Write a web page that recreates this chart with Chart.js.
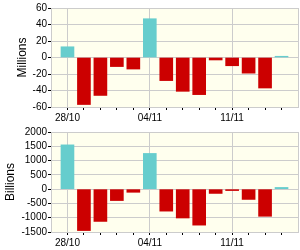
<!DOCTYPE html>
<html><head><meta charset="utf-8">
<script src="https://cdn.jsdelivr.net/npm/chart.js@4/dist/chart.umd.min.js"></script>
<style>
html,body{margin:0;padding:0;background:#fff;width:300px;height:250px;overflow:hidden}
.c{position:absolute;left:0;width:300px;height:125px}
</style></head><body>
<div class="c" style="top:0"><canvas id="topChart" width="300" height="125"></canvas></div>
<div class="c" style="top:125px"><canvas id="botChart" width="300" height="125"></canvas></div>
<script>
const categories = ['28/10','29/10','30/10','31/10','01/11','04/11','05/11','06/11','07/11','08/11','11/11','12/11','13/11','14/11'];
const labeledDays = ['28/10','04/11','11/11'];
const millions = [13,-57,-46,-11,-14,47,-28,-41,-45,-3,-10,-19,-37,1.5];
const billions = [1550,-1450,-1130,-400,-110,1250,-770,-1010,-1260,-150,-50,-360,-950,60];
const millionsTicks = [-60,-40,-20,0,20,40,60];
const billionsTicks = [-1500,-1000,-500,0,500,1000,1500,2000];

const POS = '#66CDCD', NEG = '#CC0000';
const FONT = {family:'"Liberation Sans", Arial, sans-serif', size:10};
const axisLabels = [''].concat(categories, ['']);
const gridIdx = [0, 15].concat(labeledDays.map(d => axisLabels.indexOf(d)));

const bgPlugin = {id:'bg', beforeDraw(chart){
  const {ctx, chartArea:a} = chart;
  ctx.save(); ctx.fillStyle = '#FFFFEE'; ctx.fillRect(a.left, a.top, a.width, a.height); ctx.restore();
}};

function make(id, values, ticks, title, titlePad, topPad){
  const data = [null].concat(values, [null]);
  return new Chart(document.getElementById(id), {
    type:'bar',
    data:{labels:axisLabels, datasets:[{data:data,
      backgroundColor: c => (c.raw >= 0 ? POS : NEG),
      barThickness:13, borderWidth:0}]},
    options:{
      responsive:false, animation:false, devicePixelRatio:1,
      layout:{padding:{top:topPad, right:1, left:0, bottom:0}},
      plugins:{legend:{display:false}, tooltip:{enabled:false}},
      scales:{
        x:{type:'category', offset:false,
          grid:{offset:false, color: c => gridIdx.includes(c.index) ? '#cccccc' : 'rgba(0,0,0,0)',
                tickColor: c => (c.index > 0 && c.index < 15) ? '#000' : 'rgba(0,0,0,0)', tickLength:3},
          border:{color:'#cccccc'},
          ticks:{autoSkip:false, maxRotation:0, minRotation:0, padding:2, font:FONT, color:'#000',
                 callback:(v,i) => labeledDays.includes(axisLabels[i]) ? axisLabels[i] : ''},
          afterFit(s){ s.height = 18; }
        },
        y:{min:ticks[0], max:ticks[ticks.length-1],
          afterBuildTicks(s){ s.ticks = ticks.map(v => ({value:v})); },
          grid:{color:'#cccccc', tickColor:'#000', tickLength:3},
          border:{color:'#cccccc'},
          ticks:{autoSkip:false, padding:1, font:FONT, color:'#000', callback: v => String(v)},
          title:{display:true, text:title, color:'#000',
                 font:{family:'"Liberation Sans", Arial, sans-serif', size:12},
                 padding:{top:titlePad, bottom:0}},
          afterFit(s){ s.width = 51; }
        }
      }
    },
    plugins:[bgPlugin]
  });
}
make('topChart', millions, millionsTicks, 'Millions', 15, 8);
make('botChart', billions, billionsTicks, 'Billions', 3, 6);
</script>
</body></html>
